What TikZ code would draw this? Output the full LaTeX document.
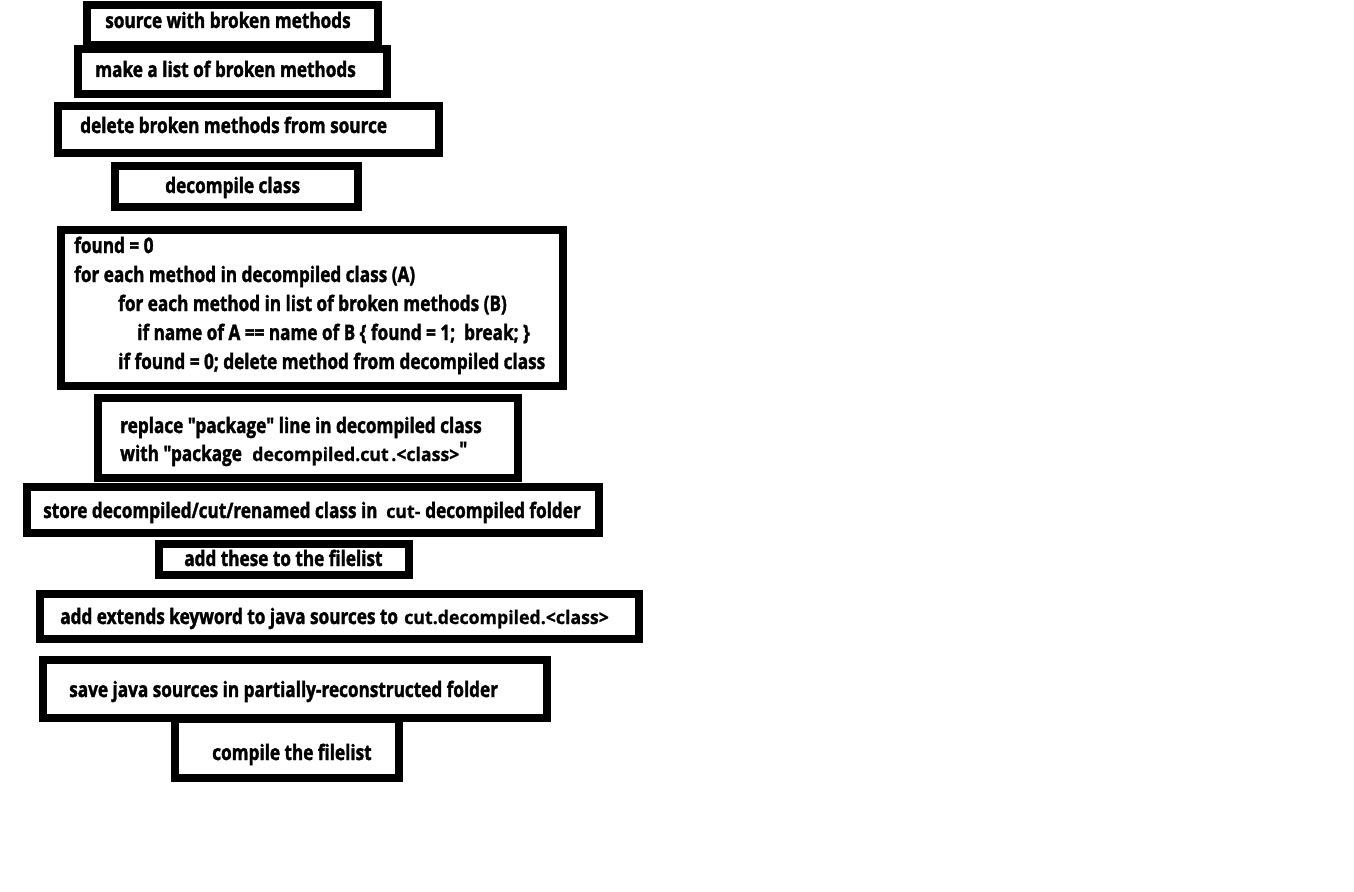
\documentclass[tikz,border=0pt]{standalone}
\usepackage{fontspec}
\setmainfont{Open Sans}
\newfontfamily\cf{Open Sans}[FakeStretch=0.805,FakeBold=1.6]
\newfontfamily\rf{Open Sans}[FakeStretch=0.95,FakeBold=0.8]
\newcommand\bx[5]{\node[boxst, minimum width={(#4-#2)*0.75pt-6pt}, minimum height={(#5-#3)*0.75pt-6pt}] (#1) at ({(#2+#4)/2},{(#3+#5)/2}) {};}
\begin{document}
\begin{tikzpicture}[x=0.75pt,y=-0.75pt,
  boxst/.style={draw=black,line width=6pt,inner sep=0pt,outer sep=0pt,rectangle},
  tx/.style={anchor=base west,inner sep=0pt,font=\cf\bfseries\fontsize{16pt}{19pt}\selectfont},
  rx/.style={anchor=base west,inner sep=0pt,font=\rf\bfseries\fontsize{14pt}{16pt}\selectfont}]
\fill[white] (0,0) rectangle (1354,892);
\bx{b1}{83}{1}{382}{49}
\bx{b2}{74}{45}{391}{98}
\bx{b3}{54}{102}{443}{157}
\bx{b4}{111}{162}{362}{211}
\bx{b5}{57}{226}{567}{390}
\bx{b6}{94}{394}{522}{482}
\bx{b7}{23}{483}{603}{537}
\bx{b8}{155}{540}{413}{579}
\bx{b9}{36}{590}{643}{643}
\bx{b10}{39}{656}{551}{722}
\bx{b11}{171}{715}{403}{782}
\node[tx] (t1) at (105,28) {source with broken methods};
\node[tx] (t2) at (95,77) {make a list of broken methods};
\node[tx] (t3) at (80,133) {delete broken methods from source};
\node[tx] (t4) at (165,193) {decompile class};
\node[tx] (t5a) at (74,253) {found = 0};
\node[tx] (t5b) at (74,282) {for each method in decompiled class (A)};
\node[tx] (t5c) at (118,311) {for each method in list of broken methods (B)};
\node[tx] (t5d) at (137,340) {if name of A == name of B \{ found = 1;\ \ break; \}};
\node[tx] (t5e) at (118,369) {if found = 0; delete method from decompiled class};
\node[tx] (t6a) at (120,433) {replace "package" line in decompiled class};
\node[tx] (t6b) at (120,461) {with "package};
\node[rx] (t6c) at (252,461) {decompiled.};
\node[rx] (t6d) at (360,461) {cut};
\node[rx] (t6e) at (391,461) {.<class>};
\node[tx] (t6f) at (459,457) {"};
\node[tx] (t7a) at (43,518) {store decompiled/cut/renamed class in};
\node[rx] (t7b) at (386,518) {cut-};
\node[tx] (t7c) at (425,518) {decompiled folder};
\node[tx] (t8) at (184,566) {add these to the filelist};
\node[tx] (t9a) at (60,624) {add extends keyword to java sources to};
\node[rx] (t9b) at (404,624) {cut.decompiled.<class>};
\node[tx] (t10) at (69,697) {save java sources in partially-reconstructed folder};
\node[tx] (t11) at (212,760) {compile the filelist};
\end{tikzpicture}
\end{document}
